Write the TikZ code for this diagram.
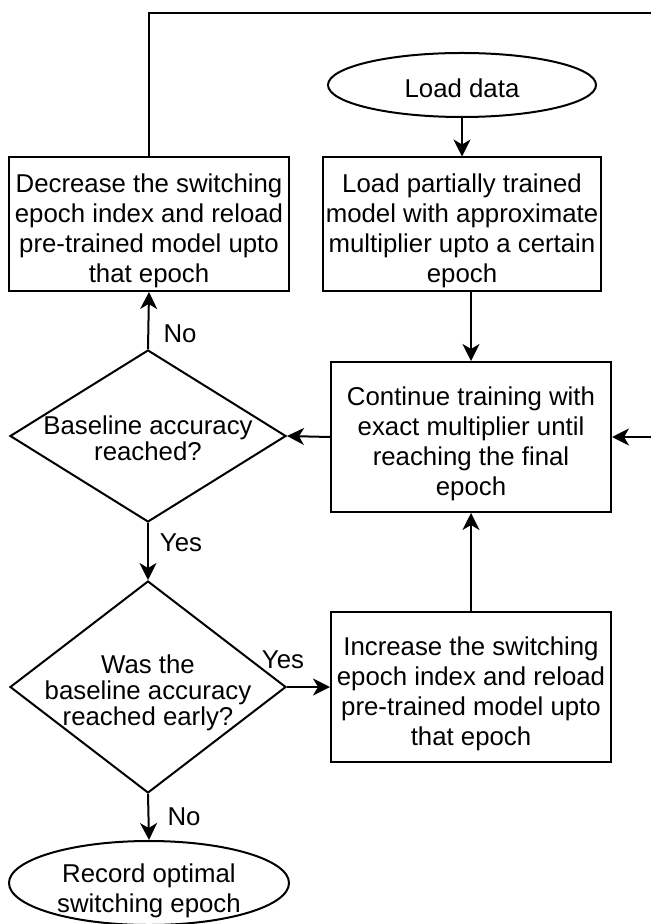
\documentclass[tikz,border=0pt]{standalone}
\usepackage{fontspec}
\setmainfont{Liberation Sans}
\usetikzlibrary{shapes.geometric,arrows.meta,positioning}

\tikzstyle{stepbox} = [draw=black, fill=white, line width=1pt,
    rectangle, minimum width=140pt, minimum height=67pt, inner sep=1pt, align=center,
    text height=58.4pt, text depth=0pt]
\tikzstyle{terminal} = [draw=black, fill=white, line width=1pt,
    ellipse, inner sep=0pt, align=center]
\tikzstyle{decision} = [draw=black, fill=white, line width=1pt,
    diamond, inner sep=0pt, minimum width=138pt]
\tikzstyle{qtext} = [align=center, font=\fontsize{12.9}{13}\selectfont]
\tikzstyle{flow} = [line width=1pt, -{Stealth[length=8.5pt,width=8.5pt,inset=2.5pt]}]
\tikzstyle{answer} = [inner sep=0pt]

\begin{document}
\begin{tikzpicture}[x=0.5pt, y=-0.5pt, font=\fontsize{12.9}{15}\selectfont]
    \useasboundingbox (0,0) rectangle (650,924);
%------------ right column ---------------------
    \node [terminal, minimum width=134pt, minimum height=32pt,
        execute at begin node={\rule{0pt}{13pt}}] (loaddata) at (462,85) {Load data};
    \node [stepbox, minimum width=139pt] (loadmodel) at (462,224.5)
        {Load partially trained\\model with approximate\\multiplier upto a certain\\epoch};
    \node [stepbox, minimum height=75pt] (train) at (471,437)
        {Continue training with\\exact multiplier until\\reaching the final\\epoch};
    \node [stepbox, minimum height=75pt] (increase) at (471,687)
        {Increase the switching\\epoch index and reload\\pre-trained model upto\\that epoch};
%------------ left column ---------------------
    \node [stepbox] (decrease) at (149,224)
        {Decrease the switching\\epoch index and reload\\pre-trained model upto\\that epoch};
    \node [decision, minimum height=86pt,
        label={[qtext, yshift=-1pt]center:Baseline accuracy\\reached?}] (reached) at (148,436) {};
    \node [decision, minimum height=106pt,
        label={[qtext, yshift=-3pt]center:Was the\\baseline accuracy\\reached early?}] (early) at (148,687) {};
    \node [terminal, minimum width=140pt, minimum height=42pt,
        text height=29.4pt, text depth=0pt] (record) at (149,883)
        {Record optimal\\switching epoch};
%------------ answers ---------------------
    \node [answer] (no1) at (180,334) {No};
    \node [answer] (yes1) at (181,543) {Yes};
    \node [answer] (yes2) at (283,660) {Yes};
    \node [answer] (no2) at (184,817) {No};
%------------ connectors ---------------------
    \coordinate (loopcorner) at (690,13.5);
    \draw [flow] (loaddata.south) -- (loadmodel.north);
    \draw [flow] (loadmodel.south -| train.north) -- (train.north);
    \draw [flow] (train.west) -- (reached.east);
    \draw [flow] (reached.north) -- (decrease.south);
    \draw [flow] (reached.south) -- (early.north);
    \draw [flow] (early.east) -- (increase.west);
    \draw [flow] (increase.north) -- (train.south);
    \draw [flow] (early.south) -- (record.north);
    \draw [flow] (decrease.north) |- (loopcorner) |- (train.east);
\end{tikzpicture}
\end{document}
